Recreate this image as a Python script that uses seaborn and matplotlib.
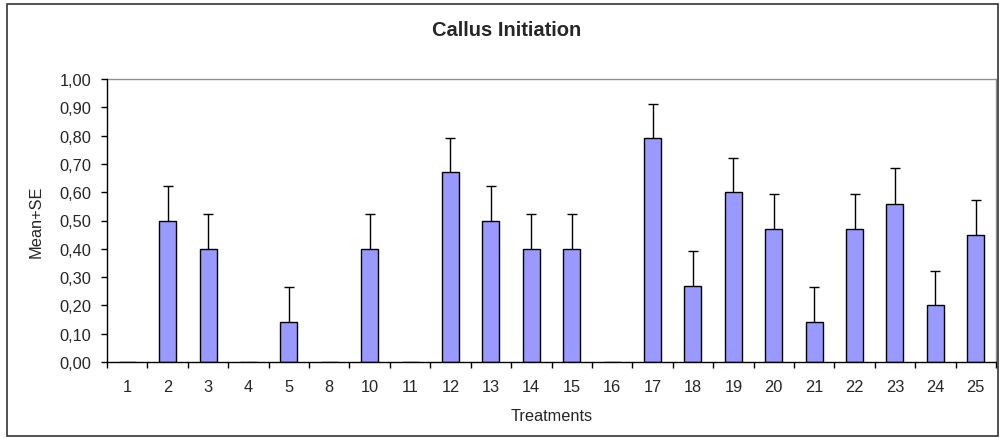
import numpy as np
import pandas as pd
import matplotlib
matplotlib.use("Agg")
import matplotlib.pyplot as plt
import seaborn as sns
from matplotlib.ticker import FixedLocator, FuncFormatter
from matplotlib.patches import Rectangle

# ---- data ----
treatments = ["1", "2", "3", "4", "5", "8", "10", "11", "12", "13", "14",
              "15", "16", "17", "18", "19", "20", "21", "22", "23", "24", "25"]
means = [0.00, 0.50, 0.40, 0.00, 0.14, 0.00, 0.40, 0.00, 0.67, 0.50, 0.40,
         0.40, 0.00, 0.79, 0.27, 0.60, 0.47, 0.14, 0.47, 0.56, 0.20, 0.45]
se = [0.00, 0.123, 0.123, 0.00, 0.124, 0.00, 0.123, 0.00, 0.121, 0.123, 0.123,
      0.123, 0.00, 0.12, 0.123, 0.12, 0.123, 0.124, 0.123, 0.124, 0.123, 0.123]
title = "Callus Initiation"
xlabel = "Treatments"
ylabel = "Mean+SE"

sns.set_style("white")
plt.rcParams["font.family"] = ["Liberation Sans", "DejaVu Sans"]

df = pd.DataFrame({"Treatment": treatments, "Mean": means, "SE": se})

fig = plt.figure(figsize=(10.02, 4.39), dpi=100)
ax = fig.add_axes([107 / 1002, 1 - 363 / 439, (996 - 107) / 1002, (363 - 80) / 439])

sns.barplot(data=df, x="Treatment", y="Mean", order=treatments, color="#9999FF",
            saturation=1, edgecolor="black", linewidth=1.0, width=0.42, ax=ax,
            errorbar=None)

# upward-only error bars (Excel "plus" style)
xpos = np.arange(len(treatments))
mask = np.array(se) > 0
m = np.array(means)[mask]
s = np.array(se)[mask]
eb = ax.errorbar(xpos[mask], m, yerr=[np.zeros_like(s), s], fmt="none",
                 ecolor="black", elinewidth=1.0, capsize=3.5, capthick=1.0, zorder=3)
caps = eb[1]
if len(caps) == 2:
    caps[0].remove()

ax.set_xlim(-0.5, len(treatments) - 0.5)
ax.set_ylim(0, 1.0)

FS = 11.8

# y ticks
ax.yaxis.set_major_locator(FixedLocator(np.round(np.arange(0, 1.01, 0.1), 2)))
ax.yaxis.set_major_formatter(FuncFormatter(lambda v, p: f"{v:.2f}".replace(".", ",")))
ax.tick_params(axis="y", which="major", direction="out", length=4.5, width=1,
               color="black", pad=7, labelsize=FS, left=True)

# x ticks: boundaries as major marks, labels on minor ticks at centres
ax.set_xticks(np.arange(-0.5, len(treatments), 1.0))
ax.set_xticklabels([])
ax.set_xticks(xpos, minor=True)
ax.set_xticklabels(treatments, minor=True)
ax.tick_params(axis="x", which="major", direction="out", length=4, width=1,
               color="black", bottom=True)
ax.tick_params(axis="x", which="minor", length=0, pad=12, labelsize=FS)

ax.set_xlabel(xlabel, fontsize=FS, labelpad=10)
ax.set_ylabel(ylabel, fontsize=FS, labelpad=11)

for side in ["left", "bottom"]:
    ax.spines[side].set_color("black")
    ax.spines[side].set_linewidth(1.0)
for side in ["top", "right"]:
    ax.spines[side].set_color("#909090")
    ax.spines[side].set_linewidth(1.0)
ax.spines["top"].set_zorder(0)

fig.text(507 / 1002, 1 - 31 / 439, title, ha="center", va="center",
         fontsize=14.5, fontweight="bold")

# outer chart border
fig.patches.append(Rectangle((7 / 1002, 1 - 437 / 439), (998 - 7) / 1002, (437 - 5) / 439,
                             transform=fig.transFigure, fill=False,
                             edgecolor="#333333", linewidth=1.2))

fig.savefig("out.png", dpi=100)
